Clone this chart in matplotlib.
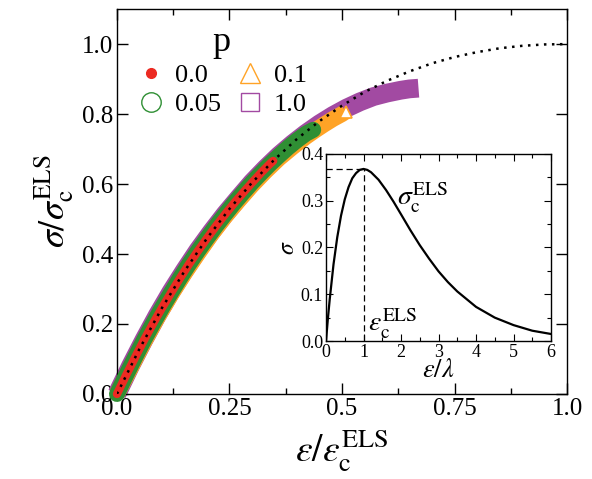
import matplotlib
matplotlib.use("Agg")
import matplotlib.pyplot as plt
from matplotlib.lines import Line2D

plt.rcParams["font.family"] = ["Liberation Serif", "DejaVu Serif"]
plt.rcParams["mathtext.fontset"] = "stix"

# ELS reference curve (dotted), sigma/sigma_c vs eps/eps_c
els_x = [0.0, 0.05, 0.1, 0.15, 0.2, 0.25, 0.3, 0.35, 0.4, 0.45, 0.5,
         0.55, 0.6, 0.65, 0.7, 0.75, 0.8, 0.85, 0.9, 0.95, 1.0]
els_y = [0.0, 0.129, 0.246, 0.351, 0.445, 0.529, 0.604, 0.670, 0.729, 0.780, 0.824,
         0.863, 0.895, 0.922, 0.945, 0.963, 0.977, 0.988, 0.995, 0.999, 1.0]

# simulation series, one per p
p00_x = [0.0, 0.02, 0.04, 0.06, 0.08, 0.10, 0.12, 0.14, 0.16, 0.18, 0.20,
         0.22, 0.24, 0.26, 0.28, 0.30, 0.32, 0.34, 0.347]
p00_y = [0.0, 0.053, 0.104, 0.154, 0.201, 0.246, 0.289, 0.331, 0.371, 0.409, 0.445,
         0.480, 0.513, 0.545, 0.575, 0.604, 0.632, 0.658, 0.666]

p005_x = [0.0, 0.02, 0.04, 0.06, 0.08, 0.10, 0.12, 0.14, 0.16, 0.18, 0.20, 0.22,
          0.24, 0.26, 0.28, 0.30, 0.32, 0.34, 0.36, 0.38, 0.40, 0.42, 0.436]
p005_y = [0.0, 0.053, 0.104, 0.154, 0.201, 0.246, 0.289, 0.331, 0.371, 0.409, 0.445, 0.480,
          0.513, 0.545, 0.575, 0.604, 0.631, 0.657, 0.681, 0.704, 0.725, 0.744, 0.755]

p01_x = [0.0, 0.03, 0.06, 0.09, 0.12, 0.15, 0.18, 0.21, 0.24, 0.27, 0.30, 0.33,
         0.36, 0.39, 0.42, 0.44, 0.46, 0.48, 0.50, 0.508]
p01_y = [0.0, 0.073, 0.148, 0.218, 0.283, 0.344, 0.401, 0.456, 0.506, 0.552, 0.596, 0.636,
         0.673, 0.705, 0.735, 0.753, 0.770, 0.786, 0.800, 0.807]

p10_x = [0.0, 0.03, 0.06, 0.09, 0.12, 0.15, 0.18, 0.21, 0.24, 0.27, 0.30, 0.33,
         0.36, 0.39, 0.42, 0.45, 0.48, 0.51, 0.54, 0.57, 0.60, 0.63, 0.65, 0.67]
p10_y = [0.0, 0.080, 0.155, 0.226, 0.292, 0.353, 0.411, 0.464, 0.514, 0.560, 0.605, 0.645,
         0.682, 0.715, 0.745, 0.772, 0.796, 0.817, 0.835, 0.850, 0.860, 0.868, 0.872, 0.874]

# inset: sigma vs eps/lambda
ins_x = [0.0, 0.05, 0.1, 0.2, 0.3, 0.4, 0.5, 0.6, 0.7, 0.8, 0.9, 1.0, 1.1, 1.2, 1.4,
         1.6, 1.8, 2.0, 2.25, 2.5, 2.75, 3.0, 3.25, 3.5, 4.0, 4.5, 5.0, 5.5, 6.0]
ins_y = [0.0, 0.048, 0.090, 0.164, 0.222, 0.268, 0.303, 0.329, 0.348, 0.359, 0.366, 0.368,
         0.366, 0.361, 0.345, 0.323, 0.298, 0.271, 0.237, 0.205, 0.176, 0.149, 0.126,
         0.106, 0.073, 0.050, 0.034, 0.022, 0.015]
peak_x = 1.0
peak_y = 0.368

RED = "#ec2a22"
GREEN = "#2f8f34"
ORANGE = "#ffa326"
PURPLE = "#a24aa2"

fig = plt.figure(figsize=(5.92, 4.79), dpi=100)
ax = fig.add_axes([0.1976, 0.1775, 0.7602, 0.8035])

# dense overlapping markers in the original look like solid bands
ax.plot(p10_x, p10_y, color=PURPLE, lw=13.5, solid_capstyle="butt", solid_joinstyle="round",
        clip_on=False, zorder=2)
ax.plot(p01_x, p01_y, color=ORANGE, lw=11.5, solid_capstyle="butt", solid_joinstyle="round",
        clip_on=False, zorder=3)
ax.plot(p01_x[-1:], p01_y[-1:], ls="none", marker="^", ms=9, mfc="white", mec=ORANGE,
        mew=1.2, zorder=3.5)
ax.plot(p005_x, p005_y, color=GREEN, lw=11.5, solid_capstyle="round", solid_joinstyle="round",
        clip_on=False, zorder=4)
ax.plot(p00_x, p00_y, color=RED, lw=6, solid_capstyle="round", solid_joinstyle="round",
        clip_on=False, zorder=5)
ax.plot(els_x, els_y, color="black", ls=(0, (1, 2.2)), lw=1.8, zorder=6)

ax.set_xlim(0, 1.0)
ax.set_ylim(0, 1.1)
ax.set_xticks([0.0, 0.25, 0.5, 0.75, 1.0])
ax.set_xticklabels(["0.0", "0.25", "0.5", "0.75", "1.0"])
ax.set_xticks([0.125, 0.375, 0.625, 0.875], minor=True)
ax.set_yticks([0.0, 0.2, 0.4, 0.6, 0.8, 1.0])
ax.set_yticklabels(["0.0", "0.2", "0.4", "0.6", "0.8", "1.0"])
ax.tick_params(which="both", direction="in", top=True, right=True, labelsize=18, width=1.0)
ax.tick_params(which="major", length=8, pad=3)
ax.tick_params(which="minor", length=4.5)
for s in ax.spines.values():
    s.set_linewidth(1.0)
ax.set_xlabel(r"$\varepsilon/\varepsilon_{\rm c}^{\rm ELS}$", fontsize=27, labelpad=5)
ax.set_ylabel(r"$\sigma/\sigma_{\rm c}^{\rm ELS}$", fontsize=26, labelpad=4)

handles = [
    Line2D([], [], ls="none", marker="o", ms=7, mfc=RED, mec=RED),
    Line2D([], [], ls="none", marker="o", ms=14, mfc="none", mec=GREEN, mew=1.0),
    Line2D([], [], ls="none", marker="^", ms=14, mfc="none", mec=ORANGE, mew=1.0),
    Line2D([], [], ls="none", marker="s", ms=13, mfc="none", mec=PURPLE, mew=1.0),
]
leg = ax.legend(handles, ["0.0", "0.05", "0.1", "1.0"], ncol=2, title="p",
                loc="upper left", bbox_to_anchor=(0.0, 1.005), frameon=False,
                fontsize=19, title_fontsize=26, handletextpad=0.3, columnspacing=0.5,
                labelspacing=0.2, handlelength=1.2, borderpad=0.2)

# inset
ins = fig.add_axes([0.5507, 0.2881, 0.3801, 0.3904])
ins.plot(ins_x, ins_y, color="black", lw=1.6)
ins.plot([0, peak_x], [peak_y, peak_y], color="black", lw=0.9, ls=(0, (5, 3)))
ins.plot([peak_x, peak_x], [0, peak_y], color="black", lw=0.9, ls=(0, (5, 3)))
ins.set_xlim(0, 6)
ins.set_ylim(0, 0.4)
ins.set_xticks(range(0, 7))
ins.set_xticks([0.5, 1.5, 2.5, 3.5, 4.5, 5.5], minor=True)
ins.set_yticks([0.0, 0.1, 0.2, 0.3, 0.4])
ins.set_yticks([0.05, 0.15, 0.25, 0.35], minor=True)
ins.tick_params(which="both", direction="in", top=True, right=True, labelsize=13, width=0.8, pad=2)
ins.tick_params(which="major", length=5)
ins.tick_params(which="minor", length=3)
for s in ins.spines.values():
    s.set_linewidth(1.0)
ins.set_xlabel(r"$\varepsilon/\lambda$", fontsize=19, labelpad=-1)
ins.set_ylabel(r"$\sigma$", fontsize=17, labelpad=1)
ins.text(1.9, 0.29, r"$\sigma_{\rm c}^{\rm ELS}$", fontsize=20)
ins.text(1.12, 0.02, r"$\varepsilon_{\rm c}^{\rm ELS}$", fontsize=20)

fig.savefig("out.png", dpi=100)
